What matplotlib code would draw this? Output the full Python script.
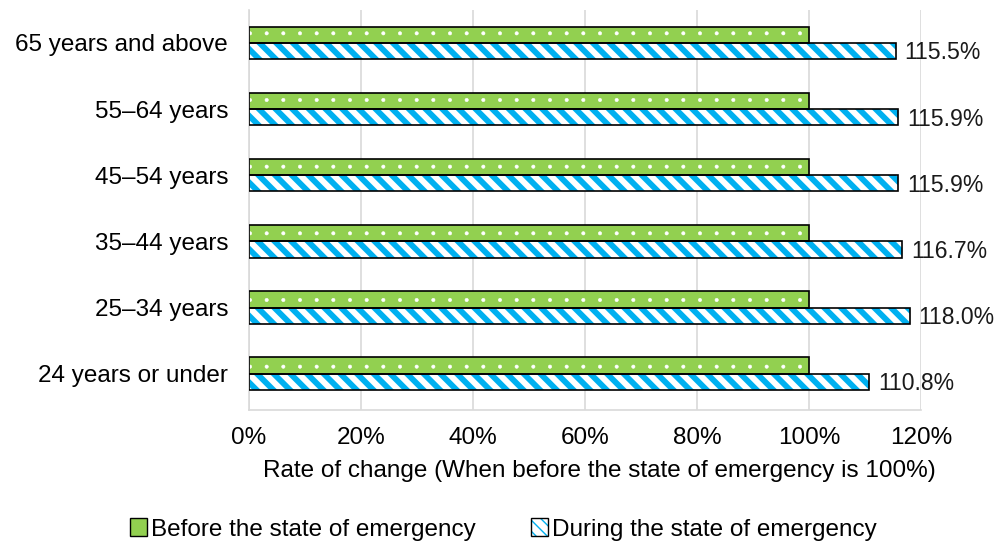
import matplotlib
matplotlib.use("Agg")
import matplotlib.pyplot as plt
from matplotlib.patches import Patch
from matplotlib.legend_handler import HandlerTuple
import numpy as np

plt.rcParams['font.family'] = ['Liberation Sans', 'DejaVu Sans']

age_groups = ["24 years or under", "25\u201334 years", "35\u201344 years",
              "45\u201354 years", "55\u201364 years", "65 years and above"]
before = [100, 100, 100, 100, 100, 100]
during = [110.8, 118.0, 116.7, 115.9, 115.9, 115.5]

green = "#92d050"
blue = "#00b0f0"
fs = 17.5

fig = plt.figure(figsize=(9.97, 5.46), dpi=100)
ax = fig.add_axes([0.2497, 0.249, 0.674, 0.733])

y = np.arange(len(age_groups))
h = 0.245

# green bars with white dots
with plt.rc_context({'hatch.linewidth': 0.4}):
    ax.barh(y + h / 2, before, height=h, color=green, edgecolor="white",
            hatch=".", linewidth=0, zorder=2)
ax.barh(y + h / 2, before, height=h, fill=False, edgecolor="black",
        linewidth=1.2, zorder=3)

# blue striped bars
with plt.rc_context({'hatch.linewidth': 4.2}):
    ax.barh(y - h / 2, during, height=h, color="white", edgecolor=blue,
            hatch="\\\\", linewidth=0, zorder=2)
ax.barh(y - h / 2, during, height=h, fill=False, edgecolor="black",
        linewidth=1.2, zorder=3)

for yi, v in zip(y, during):
    ax.text(v + 1.6, yi - h / 2 - 0.03, f"{v:.1f}%", va="center", ha="left",
            fontsize=16.6, color="#1a1a1a")

ax.set_xlim(0, 120)
ax.set_ylim(-0.55, 5.5)
ax.set_xticks(np.arange(0, 121, 20))
ax.set_xticklabels([f"{t}%" for t in range(0, 121, 20)], fontsize=fs)
ax.set_yticks(y)
ax.set_yticklabels(age_groups, fontsize=fs)
ax.tick_params(length=0)
ax.tick_params(axis="y", pad=15)
ax.tick_params(axis="x", pad=12)
ax.xaxis.grid(True, color="#d9d9d9", linewidth=1.2, zorder=0)
ax.set_axisbelow(True)
for s in ["top", "right"]:
    ax.spines[s].set_visible(False)
for s in ["left", "bottom"]:
    ax.spines[s].set_color("#d9d9d9")
    ax.spines[s].set_linewidth(1.2)

ax.set_xlabel("Rate of change (When before the state of emergency is 100%)",
              fontsize=fs)
ax.xaxis.set_label_coords(0.522, -0.125)

with plt.rc_context({'hatch.linewidth': 3.0}):
    h_before = Patch(facecolor=green, edgecolor="black", linewidth=1)
    h_during = (Patch(facecolor="white", edgecolor=blue, hatch="\\\\\\", linewidth=0),
                Patch(fill=False, edgecolor="black", linewidth=1))
leg = fig.legend([h_before, h_during],
                 ["Before the state of emergency", "During the state of emergency"],
                 handler_map={tuple: HandlerTuple(ndivide=1, pad=0)},
                 loc="lower center", bbox_to_anchor=(0.505, -0.03), ncol=2,
                 frameon=False, fontsize=fs, handlelength=0.7, handleheight=0.7,
                 handletextpad=0.15, columnspacing=2.3)

fig.savefig("out.png", dpi=100)
